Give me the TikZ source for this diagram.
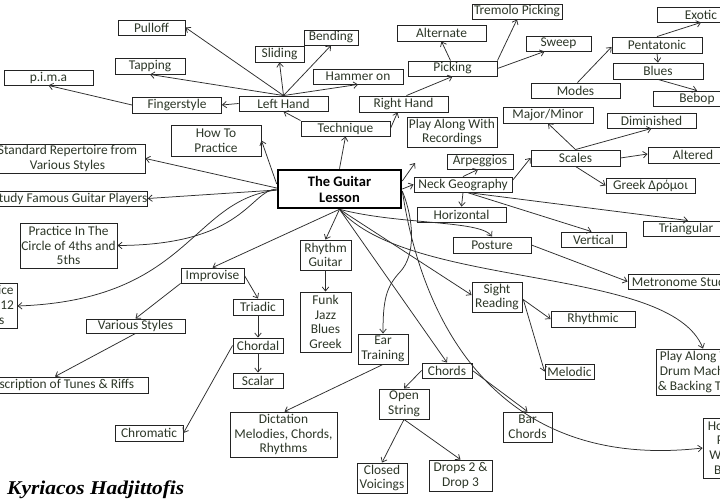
\documentclass[tikz,border=0pt]{standalone}
\usepackage{fontspec}
\setmainfont{Carlito}
\newfontfamily\sigfont{Liberation Serif}
\usetikzlibrary{arrows.meta,calc}
\definecolor{boxc}{RGB}{35,35,35}
\definecolor{linec}{RGB}{45,45,45}
\definecolor{txtc}{RGB}{45,55,40}
\newcommand\mkbox[6]{\node[box,minimum width=#4pt,minimum height=#5pt] (#1) at (#2,#3) {#6};}
\begin{document}
\begin{tikzpicture}[x=1pt,y=-1pt,
  box/.style={draw=boxc,line width=0.9pt,inner sep=0pt,align=center,text=txtc,fill=white,
    font=\fontsize{13.4}{14.6}\selectfont},
  arr/.style={draw=linec,line width=0.75pt,-{Straight Barb[length=4pt,width=6.5pt]}}]
\useasboundingbox (0,0) rectangle (720,500);
\clip (0,0) rectangle (720,500);
\fill[white] (0,0) rectangle (720,500);
% central
\node[draw=black,line width=2.6pt,inner sep=0pt,align=center,minimum width=123pt,minimum height=38pt,
  font=\fontsize{14.5}{16}\selectfont\bfseries] (gl) at (339.5,189) {The Guitar\\Lesson};
% technique cluster
\mkbox{pulloff}{151.5}{27.5}{67}{15}{Pulloff}
\mkbox{tapping}{150}{66}{70}{16}{Tapping}
\mkbox{pima}{48.5}{77.5}{89}{15}{p.i.m.a}
\mkbox{finger}{177}{105}{89}{16}{Fingerstyle}
\mkbox{lh}{283.5}{103.5}{89}{15}{Left Hand}
\mkbox{sliding}{279.5}{54}{49}{16}{Sliding}
\mkbox{bending}{331}{37.5}{54}{15}{Bending}
\mkbox{hammer}{358}{76.5}{90}{15}{Hammer on}
\mkbox{rh}{403.5}{104}{89}{16}{Right Hand}
\mkbox{tech}{345.5}{128.5}{89}{15}{Technique}
\mkbox{tremolo}{517}{11.5}{90}{15}{Tremolo Picking}
\mkbox{alternate}{441.5}{33}{89}{16}{Alternate}
\mkbox{sweep}{558.5}{43.5}{65}{15}{Sweep}
\mkbox{picking}{452.5}{68.5}{89}{15}{Picking}
\mkbox{playrec}{452}{132}{90}{30}{Play Along With\\Recordings}
% left side
\mkbox{howto}{216}{140.5}{90}{31}{How To\\Practice}
\mkbox{std}{67.5}{158.5}{155}{29}{Standard Repertoire from\\Various Styles}
\mkbox{study}{70}{198.5}{154}{15}{Study Famous Guitar Players}
\mkbox{circle}{68.5}{245.5}{97}{45}{Practice In The\\Circle of 4ths and\\5ths}
\mkbox{keys}{-8}{306}{50}{45}{Practice\\In All 12\\Keys}
\mkbox{impr}{212.5}{275.5}{63}{15}{Improvise}
\mkbox{triadic}{258}{307}{50}{16}{Triadic}
\mkbox{chordal}{258}{345.5}{50}{15}{Chordal}
\mkbox{scalar}{258}{380.5}{50}{15}{Scalar}
\mkbox{various}{135.5}{326}{99}{14}{Various Styles}
\mkbox{trans}{55}{385}{186}{16}{Transcription of Tunes \& Riffs}
\mkbox{chromatic}{149}{433}{68}{16}{Chromatic}
\mkbox{dict}{283.5}{434.5}{107}{45}{Dictation\\Melodies, Chords,\\Rhythms}
\mkbox{rhythm}{325.5}{255}{51}{30}{Rhythm\\Guitar}
\mkbox{funk}{325.5}{322}{51}{60}{Funk\\Jazz\\Blues\\Greek}
% bottom / right
\mkbox{ear}{383}{349}{50}{30}{Ear\\Training}
\mkbox{chords}{447}{370.5}{50}{15}{Chords}
\mkbox{open}{404}{404}{50}{30}{Open\\String}
\mkbox{closed}{382}{478}{50}{30}{Closed\\Voicings}
\mkbox{drops}{460.5}{475.5}{63}{31}{Drops 2 \&\\Drop 3}
\mkbox{bar}{527.5}{427}{49}{30}{Bar\\Chords}
\mkbox{sight}{497}{297}{50}{30}{Sight\\Reading}
\mkbox{rhythmic}{593}{319}{84}{16}{Rhythmic}
\mkbox{melodic}{569.5}{371.5}{49}{15}{Melodic}
\mkbox{metro}{686}{281.5}{116}{15}{Metronome Studies}
\mkbox{drum}{703}{372}{94}{46}{Play Along With\\Drum Machines\\\& Backing Tracks}
\mkbox{ho}{728}{448}{50}{60}{How To\\Play\\With A\\Band}
% scales cluster
\mkbox{exotic}{701}{14.5}{88}{15}{Exotic}
\mkbox{penta}{657}{45}{90}{16}{Pentatonic}
\mkbox{blues}{658}{71}{90}{16}{Blues}
\mkbox{bebop}{697}{98.5}{88}{15}{Bebop}
\mkbox{modes}{575.5}{90.5}{89}{15}{Modes}
\mkbox{majmin}{548}{115}{90}{16}{Major/Minor}
\mkbox{dim}{651.5}{120.5}{89}{15}{Diminished}
\mkbox{scales}{575.5}{158}{89}{16}{Scales}
\mkbox{altered}{693}{155}{90}{16}{Altered}
\mkbox{greek}{650.5}{185.5}{89}{15}{Greek Δρόμοι}
\mkbox{arp}{480}{161.5}{66}{15}{Arpeggios}
\mkbox{neck}{463}{184.5}{98}{15}{Neck Geography}
\mkbox{horiz}{461.5}{214.5}{89}{15}{Horizontal}
\mkbox{posture}{492}{245}{78}{16}{Posture}
\mkbox{vertical}{593.5}{239.5}{65}{15}{Vertical}
\mkbox{tri}{686}{228.5}{86}{15}{Triangular}
\coordinate (recpt) at (415,163);
% connectors: technique
\draw[arr] (gl.north) -- (tech.south);
\draw[arr] (tech.north west) -- (lh.south);
\draw[arr] (tech.east) -- ($(rh.south)+(-6,0)$);
\draw[arr] (lh.north) -- (pulloff.east);
\draw[arr] (lh.north) -- (tapping.south);
\draw[arr] (lh.north) -- (sliding.south);
\draw[arr] (lh.north) -- (bending.south);
\draw[arr] (lh.north) -- (hammer.south);
\draw[arr] (lh.west) -- (finger.east);
\draw[arr] (finger.west) -- (pima.south);
\draw[arr] ($(rh.north)+(3,0)$) -- (picking.south);
\draw[arr] ($(picking.north)+(-2,0)$) -- (alternate.south);
\draw[arr] (picking.north east) -- (tremolo.south);
\draw[arr] (picking.east) -- ($(sweep.south west)+(19,0)$);
% left side
\draw[arr] ($(gl.west)+(0,-5)$) -- (howto.east);
\draw[arr] ($(gl.west)+(0,-1)$) -- (std.east);
\draw[arr] ($(gl.west)+(0,1)$) -- (study.east);
\draw[arr] (gl.west) .. controls (250,190) and (245,245) .. (circle.east);
\draw[arr] ($(gl.west)+(0,1)$) .. controls (190,200) and (190,300) .. (keys.east);
\draw[arr] (gl.south) -- (impr.north);
\draw[arr] (gl.south) -- (rhythm.north);
\draw[arr] (rhythm.south) -- (funk.north);
\draw[arr] (impr.south west) -- (various.north);
\draw[arr] (impr.east) -- (triadic.north);
\draw[arr] (triadic.south) -- (chordal.north);
\draw[arr] (chordal.south) -- (scalar.north);
\draw[arr] (chordal.west) -- (chromatic.east);
\draw[arr] (various.south) -- (trans.north);
\draw[arr] (ear.south) -- ($(dict.north)+(1,0)$);
% right of centre
\draw[arr] ($(gl.east)+(0,2)$) .. controls (414,220) and (416,255) .. (400,272)
   .. controls (386,287) and (383,300) .. (ear.north);
\draw[arr] ($(gl.east)+(0,2)$) .. controls (425,340) and (510,470) .. (ho.west);
\draw[arr] (gl.east) -- (neck.west);
\draw[arr] ($(gl.east)+(0,-8)$) -- (recpt);
\draw[arr] (neck.north) -- ($(arp.south)+(-2,0)$);
\draw[arr] ($(neck.east)+(0,-4)$) -- (scales.west);
\draw[arr] (neck.south) -- (horiz.north);
\draw[arr] ($(neck.south)+(4,0)$) -- ($(vertical.north)+(-2,0)$);
\draw[arr] ($(neck.south)+(4,0)$) -- ($(tri.north)+(2,0)$);
\draw[arr] (scales.north) -- (majmin.south);
\draw[arr] (scales.north) -- (dim.south);
\draw[arr] (scales.east) -- ($(altered.west)+(0,-1)$);
\draw[arr] (scales.south) -- (greek.west);
\draw[arr] ($(modes.north)+(2,0)$) -- ($(penta.west)+(0,2)$);
\draw[arr] (penta.north) -- (exotic.south);
\draw[arr] (penta.south) -- (blues.north);
\draw[arr] (blues.south) -- (bebop.north);
\draw[arr] (gl.south) .. controls (400,225) and (480,220) .. (posture.north);
\draw[arr] (posture.east) -- (metro.west);
\draw[arr] (gl.south) .. controls (410,290) and (670,265) .. (drum.north);
\draw[arr] (gl.south) -- ($(sight.west)+(0,-2)$);
\draw[arr] (gl.south) -- (chords.north);
\draw[arr] ($(sight.east)+(0,2)$) -- (rhythmic.west);
\draw[arr] ($(sight.east)+(1,3)$) -- (melodic.west);
\draw[arr] (chords.west) -- (open.north);
\draw[arr] (chords.east) -- (bar.north);
\draw[arr] (open.south) -- (closed.north);
\draw[arr] (open.south) -- (drops.north);
% signature
\node[anchor=base west,inner sep=0pt,text=black,xscale=1.1,font=\fontsize{19.5}{20}\sigfont\bfseries\itshape] (sig) at (7,494) {Kyriacos Hadjittofis};
\end{tikzpicture}
\end{document}
